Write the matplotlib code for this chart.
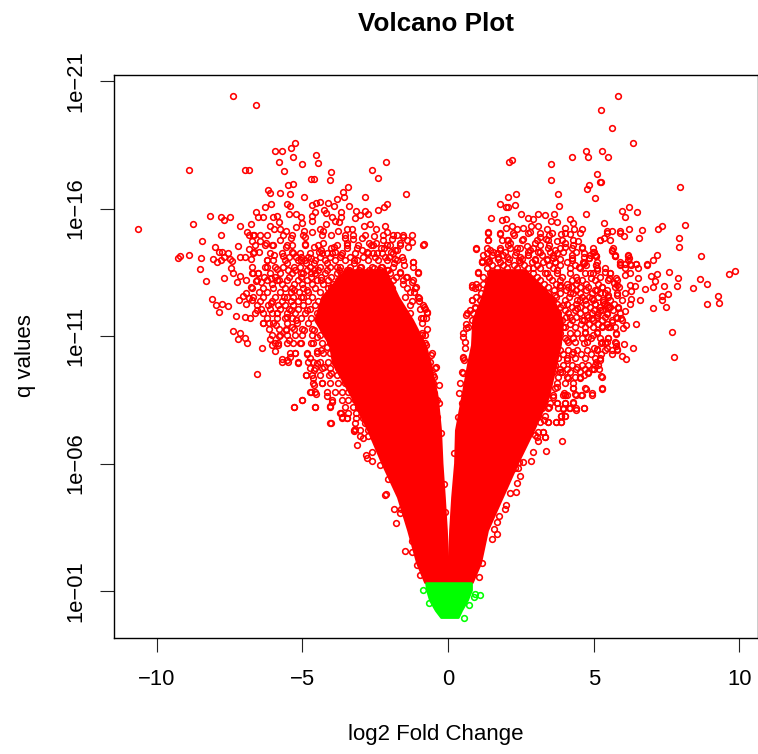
import numpy as np
import matplotlib
matplotlib.use("Agg")
import matplotlib.pyplot as plt

plt.rcParams["font.family"] = ["Liberation Sans", "DejaVu Sans"]

# tick labels
x_ticks = [-10, -5, 0, 5, 10]
x_labels = ["\u221210", "\u22125", "0", "5", "10"]
y_exps = [-21, -16, -11, -6, -1]
y_labels = ["1e\u221221", "1e\u221216", "1e\u221211", "1e\u221206", "1e\u221201"]

# saturated part of the two red lobes (log10 q, then log2 FC edges)
lobe_exp = [-13.59, -12.53, -11.63, -10.65, -9.94, -8.61, -7.31, -6.02, -4.69, -3.39, -2.10, -1.35]
left_outer = [-3.53, -4.32, -4.56, -4.05, -3.95, -3.29, -2.74, -2.26, -1.72, -1.37, -1.06, -0.79]
left_inner = [-2.16, -1.72, -1.23, -0.79, -0.62, -0.38, -0.27, -0.22, -0.14, -0.07, -0.02, 0.0]
right_inner = [1.44, 1.17, 0.86, 0.82, 0.69, 0.48, 0.27, 0.24, 0.14, 0.07, 0.03, 0.02]
right_outer = [2.64, 3.57, 3.91, 3.84, 3.70, 3.43, 2.92, 2.37, 1.85, 1.34, 1.10, 0.82]

# saturated green block at the bottom
green_exp = [-1.31, -1.04, -0.65, -0.25, 0.02]
green_left = [-0.75, -0.72, -0.62, -0.42, -0.24]
green_right = [0.79, 0.79, 0.65, 0.45, 0.34]

# separate green points
green_pts = [(-0.86, -1.03), (-0.65, -0.53), (0.72, -0.44), (0.54, 0.05), (1.10, -0.83), (0.94, -0.88), (0.88, -0.78)]

# separate red points, left side: (log2 FC, log10 q)
left_top = [
    (-7.38, -20.42), (-6.59, -20.08), (-5.24, -18.57), (-5.37, -18.39), (-5.95, -18.26), (-5.70, -18.26),
    (-5.33, -18.02), (-4.53, -18.10), (-5.81, -17.82), (-5.00, -17.75), (-4.46, -17.80), (-8.89, -17.50),
    (-6.95, -17.50), (-6.83, -17.53), (-5.62, -17.46), (-4.03, -17.45), (-2.60, -17.50), (-2.13, -17.83),
    (-2.39, -17.21), (-4.70, -17.15), (-4.60, -17.15), (-4.06, -17.14), (-5.48, -16.94), (-5.32, -16.98),
    (-3.43, -16.83), (-3.59, -16.64), (-6.17, -16.72), (-6.11, -16.63), (-5.75, -16.63), (-5.42, -16.59),
    (-1.43, -16.56), (-4.94, -16.44), (-3.56, -16.46), (-3.81, -16.39), (-2.85, -16.44), (-6.06, -16.19),
    (-5.53, -16.19), (-5.41, -16.10), (-6.28, -16.05), (-4.66, -16.14), (-4.54, -16.23), (-4.40, -16.26),
    (-4.13, -16.23), (-3.92, -16.10), (-3.41, -16.10), (-2.09, -16.19), (-2.19, -16.05), (-2.41, -15.93),
    (-2.85, -15.91), (-4.27, -15.95), (-4.58, -15.88), (-3.66, -15.88), (-3.17, -15.91), (-2.76, -15.80),
    (-6.60, -15.85), (-8.18, -15.70), (-7.79, -15.68), (-7.49, -15.67), (-7.69, -15.54), (-8.74, -15.40),
    (-10.64, -15.19), (-6.76, -15.41), (-7.15, -15.33), (-6.51, -15.68), (-6.35, -15.68), (-6.01, -15.68),
    (-5.85, -15.71), (-5.46, -15.79), (-5.23, -15.80), (-5.06, -15.68), (-4.66, -15.70), (-4.18, -15.84),
    (-3.98, -15.68), (-3.68, -15.68), (-3.20, -15.62), (-3.02, -15.75), (-2.66, -15.40), (-2.17, -15.33),
    (-5.79, -15.49), (-6.12, -15.33), (-5.98, -15.21), (-5.77, -15.19), (-5.57, -15.14), (-5.23, -15.28),
    (-5.00, -15.42), (-4.67, -15.51), (-4.20, -15.40), (-3.86, -15.53), (-3.74, -15.49), (-3.46, -15.19),
    (-3.31, -15.19), (-2.88, -15.33), (-2.48, -15.20), (-2.08, -15.10), (-4.94, -15.14), (-4.66, -15.08),
    (-4.39, -15.21), (-4.28, -15.12), (-3.78, -15.12), (-4.02, -14.97), (-6.89, -15.10), (-6.83, -14.95),
    (-6.66, -14.97), (-7.80, -14.97), (-8.43, -14.72), (-5.77, -14.78), (-5.40, -14.85), (-4.92, -14.87),
    (-6.71, -14.74), (-6.46, -14.74), (-6.25, -14.64), (-6.03, -14.57), (-7.21, -14.55), (-8.01, -14.51),
    (-4.90, -14.61), (-4.28, -14.67), (-3.53, -14.86), (-3.27, -14.80), (-2.94, -14.83), (-2.54, -14.94),
    (-1.76, -14.97), (-1.55, -14.89), (-1.42, -14.78), (-1.23, -14.70), (-0.84, -14.63), (-1.36, -14.50),
    (-1.63, -14.67), (-1.91, -14.81), (-2.22, -14.77), (-2.08, -14.57), (-2.48, -14.64), (-2.71, -14.67),
    (-1.82, -14.39), (-1.57, -14.09), (-1.19, -13.92), (-1.83, -14.02), (-7.86, -14.29), (-7.55, -14.27),
    (-7.74, -14.31), (-6.82, -14.40), (-6.66, -14.31), (-6.49, -14.31), (-8.88, -14.17), (-9.21, -14.16),
    (-9.26, -14.08), (-8.48, -14.06), (-8.06, -14.01), (-7.69, -14.12), (-7.48, -14.02), (-7.15, -14.09),
    (-6.98, -14.12), (-6.77, -14.02), (-6.22, -13.97), (-5.97, -14.18), (-5.65, -14.16), (-5.56, -14.50),
    (-5.34, -14.31), (-5.06, -14.12), (-4.60, -14.51), (-4.43, -14.31), (-4.03, -14.44), (-3.86, -14.31),
    (-3.46, -14.44), (-3.11, -14.44), (-2.77, -14.31), (-2.31, -14.44), (-2.56, -14.25), (-1.97, -14.31),
]
left_mid = [
    (-8.51, -13.63), (-8.31, -13.15), (-7.67, -13.28), (-7.43, -13.67), (-7.37, -13.46), (-7.25, -13.13),
    (-7.14, -13.36), (-6.94, -13.20), (-7.91, -13.89), (-7.78, -13.98), (-7.40, -13.96), (-6.71, -13.49),
    (-6.52, -13.46), (-6.60, -13.17), (-6.43, -13.13), (-6.77, -12.91), (-6.20, -13.72), (-5.86, -13.62),
    (-6.09, -13.26), (-5.80, -13.20), (-5.51, -13.85), (-5.28, -13.72), (-8.09, -12.47), (-7.96, -12.22),
    (-7.74, -12.24), (-7.55, -12.19), (-7.86, -11.94), (-7.18, -12.43), (-6.94, -12.68), (-7.02, -12.58),
    (-6.83, -12.48), (-6.71, -12.41), (-6.93, -12.26), (-7.26, -11.77), (-6.95, -11.76), (-6.81, -11.70),
    (-7.37, -11.21), (-7.14, -11.12), (-7.22, -10.90), (-6.95, -10.92), (-6.90, -10.73), (-6.37, -10.53),
    (-6.12, -10.90), (-6.03, -10.65), (-5.83, -10.65), (-5.93, -10.43), (-6.54, -9.51), (-5.69, -10.12),
    (-5.51, -10.06), (-5.42, -10.19), (-5.24, -10.34), (-5.14, -9.94), (-4.83, -10.31), (-4.75, -10.13),
    (-4.48, -10.43), (-5.28, -8.23), (-5.00, -8.48), (-4.58, -8.22), (-4.03, -7.59), (-3.98, -8.41),
    (-4.05, -8.25), (-4.87, -9.46), (-4.63, -9.37), (-4.60, -9.08), (-4.71, -8.82), (-4.54, -8.73),
    (-4.31, -9.15), (-4.14, -8.66), (-3.68, -8.00), (-3.46, -7.77), (-3.20, -7.34), (-3.63, -7.84),
    (-6.34, -11.50), (-6.54, -12.02), (-6.09, -12.28), (-5.88, -11.89), (-6.14, -11.50), (-5.91, -11.43),
    (-5.80, -11.00), (-5.57, -11.24), (-5.46, -10.85), (-5.23, -11.63), (-5.06, -10.72), (-4.71, -10.72),
    (-5.40, -12.02), (-5.51, -11.76), (-5.34, -11.37), (-5.63, -12.55), (-5.28, -12.81), (-4.83, -12.02),
    (-4.60, -11.24), (-4.94, -11.24), (-4.48, -10.98), (-4.37, -10.45), (-4.14, -10.58), (-4.48, -9.93),
    (-4.60, -9.67), (-4.26, -9.80), (-4.03, -9.54), (-4.83, -12.81), (-5.06, -12.55), (-4.71, -13.46),
    (-5.06, -13.46), (-4.88, -13.85), (-4.60, -13.85), (-4.37, -13.20), (-4.26, -12.28), (-4.03, -12.94),
    (-3.68, -13.46), (-3.22, -13.85), (-2.77, -13.46), (-2.31, -13.72), (-1.85, -13.85), (-1.51, -13.79),
    (-1.19, -13.92), (-1.03, -13.53), (-1.23, -13.13), (-1.11, -12.94), (-1.00, -12.48), (-0.83, -12.15),
    (-0.71, -11.96), (-0.94, -11.70), (-0.88, -11.11), (-0.77, -10.65), (-0.60, -10.26), (-0.42, -9.80),
    (-0.48, -9.41), (-0.31, -9.08), (-0.48, -8.75), (-0.31, -8.36), (-0.37, -7.84), (-5.06, -13.98),
    (-4.71, -14.05), (-4.37, -14.38), (-4.14, -14.24), (-3.91, -14.51), (-3.68, -14.18), (-3.46, -14.64),
    (-3.23, -13.98), (-2.94, -14.38), (-2.65, -14.57), (-2.43, -14.24), (-2.20, -14.44), (-2.03, -14.11),
    (-1.74, -14.38), (-4.60, -13.59), (-4.14, -13.85), (-3.80, -13.72), (-3.46, -13.59), (-3.00, -13.72),
    (-2.54, -13.66), (-2.08, -13.59), (-1.63, -13.53), (-1.40, -13.33),
]
left_low = [
    (-3.13, -6.74), (-2.81, -6.33), (-2.62, -6.09), (-2.62, -6.46), (-2.78, -6.20), (-2.92, -7.00), (-3.22, -7.27),
    (-2.13, -4.80), (-2.17, -4.76), (-1.86, -4.23), (-1.77, -3.68), (-1.49, -2.58), (-1.23, -2.53), (-1.05, -2.03),
    (-0.96, -1.63), (-1.65, -4.06), (-1.60, -4.20), (-2.06, -5.39), (-2.33, -5.94), (-1.25, -2.96), (-0.24, -7.20),
    (-0.13, -5.20), (-0.10, -4.11),
]

# crowded band of the left lobe, read row by row: (log10 q, [log2 FC, ...])
left_rows = [
    (-14.96, [-6.69, -6.45, -6.21, -5.66, -5.35, -4.97, -4.32, -3.53, -3.26, -2.85, -2.23, -1.89, -1.54, -1.23]),
    (-14.57, [-6.62, -6.28, -6.00, -5.52, -5.35, -4.91, -4.46, -3.81, -3.46, -3.09, -2.57, -1.99, -1.65, -0.86]),
    (-14.25, [-6.69, -6.11, -5.69, -5.32, -5.08, -4.73, -4.32, -3.98, -3.64, -3.19, -2.74, -2.26, -1.89]),
    (-14.10, [-5.45, -5.20, -4.80, -4.40, -4.05, -3.70, -3.35, -2.90, -2.50, -2.15]),
    (-13.98, [-6.21, -6.00, -5.59, -5.15, -4.91, -4.56, -4.22, -3.88, -3.53, -3.12, -2.74, -2.40, -2.09, -1.75, -1.54]),
    (-13.71, [-6.72, -6.28, -5.93, -5.66, -5.08, -4.73, -4.39, -4.05, -3.70, -3.36, -3.02, -2.61, -2.26, -1.89, -1.20]),
    (-13.58, [-5.50, -5.25, -4.85, -4.45, -4.15, -3.75, -3.40, -3.05, -2.70, -2.35, -2.05]),
    (-13.47, [-6.69, -6.52, -6.11, -5.76, -5.35, -4.97, -4.56, -4.22, -3.81, -3.46, -3.12, -2.74, -2.40, -1.99, -1.65, -1.03]),
    (-13.33, [-6.30, -5.95, -5.45, -5.05, -4.70, -4.35, -4.00, -3.65, -3.25, -2.90, -2.55, -2.15, -1.80, -1.45]),
    (-13.20, [-6.55, -6.21, -5.87, -5.52, -5.15, -4.84, -4.49, -4.12, -3.77, -3.36, -3.02, -2.68, -2.26, -1.89, -1.54, -1.20]),
    (-13.05, [-6.05, -5.70, -5.30, -5.00, -4.65, -4.30, -3.95, -3.55, -3.20, -2.85, -2.40, -2.00, -1.55]),
    (-12.88, [-6.72, -6.35, -6.00, -5.59, -5.35, -4.97, -4.56, -4.12, -3.64, -3.12, -2.44, -1.92, -1.41, -1.13]),
    (-12.72, [-6.50, -6.20, -5.75, -5.40, -5.10, -4.80, -4.40, -4.00, -3.50, -1.30, -1.15]),
    (-12.53, [-6.69, -6.35, -5.93, -5.52, -5.32, -4.97, -4.67, -4.22, -3.64, -3.12, -2.57, -1.99, -1.48, -1.03]),
    (-12.37, [-6.45, -6.05, -5.70, -5.40, -5.15, -4.80, -4.45, -1.25, -1.00]),
    (-12.22, [-6.55, -6.17, -5.83, -5.59, -5.32, -4.97, -4.56, -4.05, -3.53, -3.02, -2.44, -1.89, -1.30, -0.86]),
    (-12.05, [-6.40, -6.10, -5.75, -5.45, -5.15, -4.75, -0.95, -0.80]),
    (-11.90, [-6.62, -6.35, -6.04, -5.87, -5.52, -5.25, -4.91, -4.49, -4.05, -3.60, -3.02, -2.44, -1.89, -1.30, -0.72]),
    (-11.70, [-6.20, -5.85, -5.60, -5.35, -5.05, -4.70, -0.85, -0.75]),
    (-11.51, [-6.35, -6.00, -5.52, -5.18, -4.80, -4.32, -3.81, -3.26, -2.68, -1.99, -1.41, -0.89]),
    (-11.27, [-6.15, -5.80, -5.55, -5.30, -5.00, -4.65, -4.30, -4.00, -0.72]),
    (-11.04, [-6.04, -5.76, -5.52, -5.25, -5.01, -4.67, -4.39, -4.12, -3.81, -0.89, -0.79]),
    (-10.73, [-5.93, -5.83, -5.52, -5.32, -5.08, -4.63, -4.32, -4.05, -3.81, -0.79]),
    (-10.33, [-5.42, -5.25, -4.84, -4.49, -4.29, -4.05, -3.81, -0.55]),
    (-9.98, [-5.69, -5.49, -5.15, -4.80, -4.63, -4.39, -4.12, -3.88, -0.62]),
    (-9.75, [-4.73, -4.56, -4.32, -4.05, -3.77, -0.45]),
    (-9.47, [-4.87, -4.67, -4.39, -4.08, -3.81, -3.60, -0.51]),
    (-9.16, [-4.63, -4.32, -4.05, -3.77, -3.53, -0.51]),
    (-8.80, [-4.73, -4.56, -4.15, -3.88, -3.64, -3.43, -0.62]),
    (-8.49, [-5.01, -3.98, -3.64, -3.43, -3.19, -0.38]),
    (-8.22, [-5.28, -4.56, -4.05, -3.53, -3.26, -3.09]),
    (-7.98, [-3.70, -3.43, -3.16, -2.95]),
    (-7.78, [-3.64, -3.46, -3.16, -2.92]),
    (-7.59, [-4.05, -3.19, -2.85]),
    (-7.31, [-3.22, -3.02, -2.74]),
    (-7.08, [-3.02, -2.74]),
]

# separate red points, right side
right_top = [
    (5.85, -20.42), (5.26, -19.87), (5.62, -19.17), (6.35, -18.56), (4.73, -18.26), (5.28, -18.26), (4.80, -18.02),
    (5.48, -18.01), (4.26, -18.02), (3.54, -17.75), (2.21, -17.89), (2.10, -17.82), (5.13, -17.37), (3.54, -17.14),
    (5.23, -17.06), (5.26, -17.03), (4.84, -16.91), (4.76, -16.78), (7.97, -16.83), (3.79, -16.56), (2.33, -16.56),
    (2.06, -16.44), (5.06, -16.43), (1.78, -16.19), (2.31, -16.16), (2.00, -16.05), (2.07, -16.05), (3.81, -16.12),
    (6.21, -16.06), (5.96, -15.92), (6.50, -15.88), (4.75, -15.80), (3.64, -15.78), (3.32, -15.75), (3.10, -15.79),
    (2.49, -15.79), (6.08, -15.67), (1.47, -15.63), (1.86, -15.55), (1.98, -15.61), (2.73, -15.65), (2.93, -15.59),
    (3.54, -15.51), (3.74, -15.49), (4.20, -15.58), (4.29, -15.45), (5.36, -15.44), (8.12, -15.36), (7.33, -15.32),
    (7.20, -15.21), (6.65, -15.16), (6.21, -15.21), (5.91, -15.14), (5.63, -15.14), (5.46, -15.12), (4.60, -15.19),
    (4.34, -15.19), (4.02, -15.25), (3.40, -15.19), (3.10, -15.33), (2.85, -15.33), (2.57, -15.25), (2.37, -15.19),
    (2.18, -15.32), (1.99, -15.25), (1.37, -15.07), (1.80, -14.99), (1.38, -14.76), (0.95, -14.40), (6.03, -14.93),
    (6.57, -14.86), (7.93, -14.83), (7.93, -14.49), (5.20, -14.78), (5.37, -14.86), (4.46, -14.73), (4.61, -14.51),
    (3.88, -14.99), (4.19, -14.99), (4.30, -14.57), (4.02, -14.64), (3.73, -14.74), (3.45, -14.97), (3.14, -14.90),
    (3.37, -14.80), (2.82, -15.10), (2.25, -14.97), (2.02, -14.77), (2.59, -14.81), (2.99, -14.64), (2.36, -14.44),
    (2.70, -14.55), (2.07, -14.57), (3.45, -14.57), (3.68, -14.38), (5.64, -14.36), (5.00, -14.31), (5.72, -14.14),
    (6.17, -14.17), (7.17, -14.17), (7.05, -14.00), (8.67, -14.14), (5.09, -14.14), (4.84, -14.08), (4.65, -14.12),
    (4.25, -14.08), (6.19, -13.99), (5.91, -13.82), (6.25, -13.82), (6.45, -13.84), (6.84, -13.82), (5.08, -13.79),
    (4.67, -13.85), (3.62, -14.08), (3.68, -13.89), (3.16, -14.31), (2.76, -14.18), (1.79, -14.38), (1.45, -14.38),
    (1.33, -14.25), (1.18, -13.95), (1.41, -13.96), (1.73, -14.12), (2.02, -14.12), (2.42, -13.99), (2.99, -13.99),
]
right_mid = [
    (9.84, -13.55), (9.63, -13.45), (8.90, -13.06), (8.63, -13.23), (8.41, -12.90), (9.26, -12.56), (9.29, -12.30),
    (8.90, -12.26), (7.89, -13.28), (7.85, -12.98), (7.57, -13.51), (7.17, -13.43), (6.97, -13.34), (7.12, -13.16),
    (7.05, -12.92), (7.40, -12.98), (7.54, -12.66), (7.33, -12.56), (7.33, -12.41), (7.48, -12.14), (7.05, -12.10),
    (6.59, -12.40), (6.75, -12.83), (6.84, -13.80), (6.52, -13.66), (6.45, -13.83), (6.51, -13.29), (6.43, -12.96),
    (6.23, -13.00), (6.27, -12.75), (6.29, -12.47), (6.23, -12.27), (6.09, -12.68), (6.08, -11.98), (6.45, -11.49),
    (7.67, -11.16), (7.76, -10.19), (6.35, -10.55), (6.03, -10.68), (6.11, -10.09), (5.96, -10.20), (6.11, -11.45),
    (6.01, -11.33), (5.76, -11.09), (5.75, -10.72), (5.75, -10.62), (5.79, -10.48), (5.62, -10.31), (5.47, -10.55),
    (5.48, -10.91), (5.26, -10.74), (5.39, -10.74), (5.13, -10.48), (5.00, -10.53), (5.13, -11.15), (4.97, -11.04),
    (4.82, -10.95), (4.69, -11.17), (5.23, -10.07), (5.07, -10.00), (5.17, -9.70), (5.00, -9.70), (5.26, -9.45),
    (4.82, -9.54), (4.65, -9.47), (4.52, -9.36), (4.72, -8.94), (4.94, -8.77), (5.29, -8.92), (4.58, -8.68),
    (4.37, -8.73), (4.02, -8.69), (4.30, -8.95), (3.73, -8.39), (4.03, -8.36), (4.28, -8.40), (4.66, -8.19),
    (4.38, -8.09), (4.17, -8.17), (3.95, -8.14), (3.87, -7.88), (4.03, -7.88), (3.71, -7.63), (3.89, -7.64),
    (3.42, -7.62), (3.28, -7.71), (5.45, -11.85), (5.30, -11.40), (5.50, -11.37), (5.62, -11.57), (5.79, -11.70),
    (5.93, -11.71), (5.85, -12.09), (5.56, -12.15), (5.45, -12.22), (5.22, -12.02), (5.10, -11.83), (4.93, -11.70),
    (4.76, -11.83), (4.93, -12.51), (5.05, -12.26), (5.31, -12.35), (5.50, -12.61), (5.28, -12.91), (5.10, -12.81),
    (5.79, -12.61), (5.70, -13.07), (5.79, -13.00), (5.54, -13.26), (5.56, -13.49), (5.77, -13.26), (5.39, -13.53),
    (5.22, -13.33), (5.10, -13.59), (4.99, -13.46), (4.90, -13.26), (5.08, -13.79), (4.85, -14.05), (4.99, -14.31),
    (5.08, -14.14), (4.65, -14.24), (5.62, -14.35), (5.72, -14.14), (5.91, -13.79), (6.08, -13.81), (6.16, -14.14),
    (6.20, -14.05), (6.27, -13.80), (6.08, -13.40), (6.23, -13.46), (1.02, -13.51), (0.82, -13.00), (0.91, -12.90),
    (0.82, -12.41), (0.93, -12.11), (0.63, -11.81), (0.61, -11.30), (0.53, -10.98), (0.59, -10.52), (0.53, -10.19),
    (0.55, -10.06), (0.51, -9.54), (0.42, -9.15), (0.38, -8.75), (0.47, -8.36), (0.34, -7.81), (1.16, -13.92),
    (1.39, -13.96), (1.67, -14.24), (2.13, -14.64), (2.47, -14.11), (2.82, -14.38), (3.16, -14.57), (3.39, -13.98),
    (3.73, -14.24), (4.02, -14.51), (4.25, -13.98), (4.48, -13.72), (4.65, -13.85), (2.93, -13.66), (3.39, -13.46),
    (3.73, -13.59), (4.19, -13.46), (4.42, -13.20), (3.85, -13.00), (4.13, -12.94), (3.68, -12.61), (4.30, -12.68),
    (4.53, -12.41), (3.96, -12.22), (4.42, -12.09), (3.73, -11.89), (4.19, -11.76), (4.65, -11.63), (3.96, -11.37),
    (4.42, -11.11), (4.65, -10.72), (4.08, -10.85), (4.30, -10.39), (3.68, -10.45), (4.08, -10.06), (4.42, -9.80),
    (3.85, -9.60), (4.13, -9.34), (3.73, -9.01), (3.98, -8.75), (3.62, -8.62), (3.45, -8.23),
]
right_low = [
    (3.91, -6.89), (3.35, -6.48), (2.86, -6.11), (2.44, -6.05), (2.58, -6.05), (2.91, -6.45), (2.47, -5.52),
    (2.32, -4.89), (2.12, -4.83), (1.96, -4.20), (1.99, -4.38), (1.76, -3.93), (1.68, -3.69), (1.68, -3.22),
    (1.51, -3.04), (1.57, -3.42), (1.07, -1.54), (1.17, -2.10), (0.21, -6.42), (3.08, -6.89), (3.33, -7.04),
    (3.27, -7.25), (2.98, -7.12), (2.40, -5.82), (2.29, -5.82), (2.36, -5.24),
]

# crowded band of the right lobe, read row by row
right_rows = [
    (-15.04, [1.37, 1.78, 2.23, 2.74, 3.16, 3.57, 4.01, 4.53, 5.45, 5.90]),
    (-14.76, [1.37, 1.85, 2.06, 2.54, 3.05, 3.43, 3.91, 4.29, 5.21, 5.56]),
    (-14.45, [0.96, 1.34, 1.78, 2.13, 2.47, 2.92, 3.43, 3.84, 4.25, 4.60, 4.97, 5.66]),
    (-14.30, [1.55, 1.95, 2.35, 2.75, 3.10, 3.50, 3.95, 4.40]),
    (-14.18, [1.20, 1.51, 1.89, 2.30, 2.74, 3.22, 3.60, 4.25, 4.87, 5.04, 5.73]),
    (-14.03, [1.35, 1.70, 2.10, 2.55, 3.00, 3.40, 3.85]),
    (-13.90, [1.17, 1.37, 1.78, 2.06, 2.47, 2.88, 3.26, 3.67, 4.08, 4.63, 5.11, 5.90]),
    (-13.78, [1.50, 1.90, 2.25, 2.60, 3.05, 3.45, 3.85, 4.35, 4.75]),
    (-13.67, [1.34, 1.68, 2.02, 2.37, 2.74, 3.16, 3.60, 4.19, 4.53, 5.11, 5.39, 6.07]),
    (-13.47, [1.03, 1.44, 1.78, 2.13, 2.54, 2.92, 3.33, 3.74, 4.70, 4.87, 5.56]),
    (-13.33, [1.20, 1.55, 1.90, 2.25, 2.65, 3.05, 3.45, 3.90, 4.40]),
    (-13.20, [1.37, 1.68, 2.02, 2.37, 2.74, 3.16, 3.57, 3.84, 4.25, 4.60, 5.04, 5.49, 5.80]),
    (-13.05, [0.95, 1.20, 1.50, 2.55, 2.95, 3.30, 3.70, 4.10, 4.40, 4.75, 5.15]),
    (-12.92, [0.82, 1.03, 1.34, 1.61, 2.74, 3.09, 3.43, 3.84, 4.25, 4.53, 4.80, 5.28, 5.73, 5.87]),
    (-12.80, [3.25, 3.65, 4.05, 4.40, 4.75, 5.05, 5.45]),
    (-12.69, [1.13, 3.05, 3.43, 3.84, 4.19, 4.53, 4.94, 5.21, 5.39, 5.80]),
    (-12.55, [0.95, 3.70, 4.15, 4.60, 4.85, 5.15, 5.50]),
    (-12.41, [0.82, 1.10, 3.22, 3.60, 4.01, 4.43, 4.70, 4.97, 5.32, 5.56, 5.97]),
    (-12.27, [3.75, 4.10, 4.40, 4.75, 5.05, 5.35, 5.70]),
    (-12.14, [0.93, 1.17, 3.50, 3.84, 4.25, 4.53, 4.87, 5.21, 5.49, 5.83]),
    (-12.02, [0.75, 4.00, 4.35, 4.70, 5.00, 5.30, 5.65]),
    (-11.90, [0.65, 0.86, 3.77, 4.12, 4.53, 4.94, 5.15, 5.45, 5.90]),
    (-11.75, [4.05, 4.40, 4.80, 5.10, 5.40, 5.75]),
    (-11.63, [0.82, 3.91, 4.25, 4.60, 4.97, 5.28, 5.63, 5.97]),
    (-11.48, [0.62, 4.20, 4.55, 4.85, 5.15, 5.45]),
    (-11.35, [0.69, 4.01, 4.36, 4.70, 4.97, 5.28, 5.56, 5.73]),
    (-11.12, [0.51, 3.84, 4.19, 4.70, 5.11, 5.76]),
    (-10.93, [4.00, 4.30, 4.60, 4.90, 5.20, 5.50]),
    (-10.76, [0.58, 3.77, 4.12, 4.36, 4.77, 5.28, 5.45, 5.73]),
    (-10.45, [3.84, 4.12, 4.43, 4.77, 5.11, 5.39, 5.63, 5.80]),
    (-10.30, [3.95, 4.25, 4.55, 4.90, 5.25]),
    (-10.14, [0.51, 3.77, 4.08, 4.36, 4.70, 5.04, 5.21]),
    (-9.86, [3.67, 3.95, 4.25, 4.60, 4.80, 5.04, 5.15]),
    (-9.72, [3.85, 4.10, 4.40, 4.70, 4.95]),
    (-9.59, [0.48, 3.60, 3.91, 4.19, 4.53, 4.80]),
    (-9.39, [3.50, 3.77, 4.08, 4.36, 4.53, 5.28]),
    (-9.16, [3.43, 3.74, 4.01, 4.29]),
    (-8.96, [3.40, 3.67, 4.29, 4.70, 5.28]),
    (-8.69, [3.33, 3.60, 3.95, 4.08, 4.39, 4.60, 4.94]),
    (-8.37, [3.26, 3.50, 3.74, 4.01, 4.29]),
    (-8.18, [3.22, 3.43, 3.77, 3.95, 4.15, 4.39, 4.67]),
    (-7.86, [3.09, 3.33, 3.88, 4.01]),
    (-7.63, [3.16, 3.43, 3.70, 3.88]),
    (-7.24, [3.09, 3.26]),
    (-7.04, [3.05, 3.33]),
]

fig = plt.figure(figsize=(7.58, 7.54), dpi=100)
ax = fig.add_axes([114 / 758, 1 - 638 / 754, 643.5 / 758, 563 / 754])
ax.set_yscale("log")
ax.set_xlim(-11.46, 10.62)
ax.set_ylim(10.0 ** 0.843, 10.0 ** -21.24)


def to_q(exps):
    return 10.0 ** np.array(exps)


ax.fill_betweenx(to_q(lobe_exp), left_outer, left_inner, color="#ff0000", lw=2)
ax.fill_betweenx(to_q(lobe_exp), right_inner, right_outer, color="#ff0000", lw=2)

red_pts = left_top + left_mid + left_low + right_top + right_mid + right_low
for e, xs in left_rows + right_rows:
    red_pts = red_pts + [(x, e) for x in xs]
red_pts = np.array(red_pts)
ax.plot(red_pts[:, 0], to_q(red_pts[:, 1]), "o", mfc="none", mec="#ff0000", ms=4.1, mew=1.15)

ax.fill_betweenx(to_q(green_exp), green_left, green_right, color="#00ff00", lw=2, zorder=3)
green_arr = np.array(green_pts)
ax.plot(green_arr[:, 0], to_q(green_arr[:, 1]), "o", mfc="none", mec="#00ff00", ms=4.1, mew=1.15, zorder=3)

ax.set_xticks(x_ticks)
ax.set_xticklabels(x_labels)
ax.set_yticks(to_q(y_exps))
ax.set_yticklabels(y_labels, rotation=90, va="center")
ax.minorticks_off()
ax.tick_params(axis="both", length=10, width=0.8, labelsize=15.8, color="#222222")
ax.tick_params(axis="x", pad=12)
ax.tick_params(axis="y", pad=10)
for s in ax.spines.values():
    s.set_linewidth(1.0)

ax.set_title("Volcano Plot", fontsize=18.7, fontweight="bold", pad=32)
fig.text(436 / 758, 1 - 740 / 754, "log2 Fold Change", ha="center", va="baseline", fontsize=16)
fig.text(25 / 758, 1 - 356 / 754, "q values", rotation=90, ha="center", va="center", fontsize=16)

fig.savefig("out.png", dpi=100)
